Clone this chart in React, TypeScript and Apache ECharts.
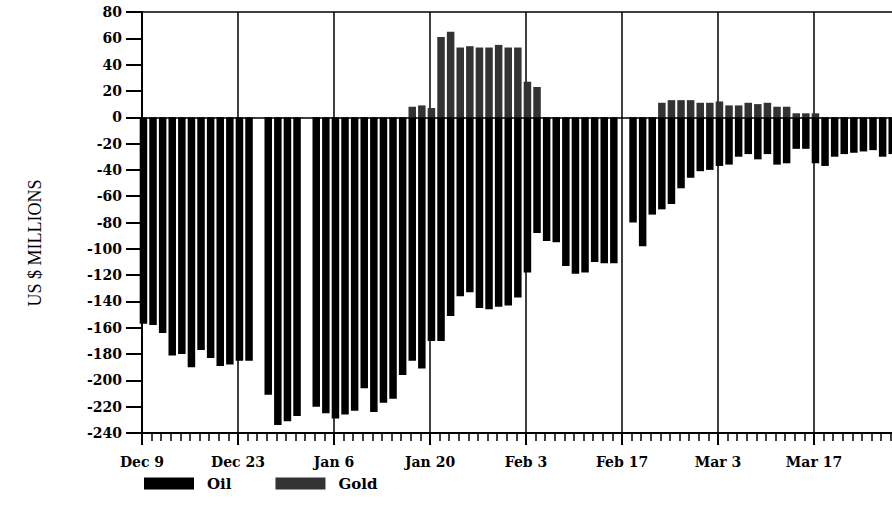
import React, { useEffect, useRef } from "react";
import * as echarts from "echarts";

// Business-day index 0 = Dec 9; a label every 10 business days (two weeks)
const dateLabels = ["Dec 9", "Dec 23", "Jan 6", "Jan 20", "Feb 3", "Feb 17", "Mar 3", "Mar 17", "Mar 31"];

// US $ millions, one value per business day (null = holiday, no bar)
const oil: (number | null)[] = [
  -157, -158, -164, -181, -180, -190, -177, -183, -189, -188,
  -185, -185, null, -211, -234, -231, -227, null, -220, -225,
  -229, -226, -223, -206, -224, -217, -214, -196, -185, -191,
  -170, -170, -151, -136, -133, -145, -146, -144, -143, -137,
  -118, -88, -94, -95, -113, -119, -118, -110, -111, -111,
  null, -80, -98, -74, -70, -66, -54, -46, -41, -40,
  -37, -36, -30, -28, -32, -28, -36, -35, -24, -24,
  -35, -37, -30, -28, -27, -26, -25, -30, -28,
];

const gold: (number | null)[] = [
  null, null, null, null, null, null, null, null, null, null,
  null, null, null, null, null, null, null, null, null, null,
  null, null, null, null, null, null, null, null, 8, 9,
  7, 61, 65, 53, 54, 53, 53, 55, 53, 53,
  27, 23, null, null, null, null, null, null, null, null,
  null, null, null, null, 11, 13, 13, 13, 11, 11,
  12, 9, 9, 11, 10, 11, 8, 8, 3, 3,
  3, null, null, null, null, null, null, null, null,
];

const BAR_SHIFT = 0.15;

export default function App() {
  const ref = useRef<HTMLDivElement>(null);
  useEffect(() => {
    if (!ref.current) return;
    const chart = echarts.init(ref.current, null, { renderer: "svg" });
    const toData = (arr: (number | null)[]) =>
      arr.map((v, i) => [i + BAR_SHIFT, v]);
    const labelFont = {
      fontFamily: "DejaVu Serif",
      fontWeight: "bold" as const,
      fontSize: 14,
      color: "#000",
    };
    chart.setOption({
      animation: false,
      backgroundColor: "#fff",
      grid: {
        left: 142,
        right: -18,
        top: 12,
        bottom: 87,
        containLabel: false,
        outerBoundsMode: "none",
        show: true,
        borderColor: "#000",
        borderWidth: 1.5,
        backgroundColor: "transparent",
      },
      legend: {
        left: 139,
        top: 471,
        itemWidth: 50,
        itemHeight: 12,
        itemGap: 44,
        icon: "rect",
        textStyle: {
          fontFamily: "DejaVu Serif",
          fontWeight: "bold",
          fontSize: 15,
          color: "#000",
          padding: [0, 0, 0, 8],
        },
        data: ["Oil", "Gold"],
      },
      graphic: [
        {
          type: "text",
          x: 35,
          y: 243,
          rotation: Math.PI / 2,
          style: {
            text: "US $ MILLIONS",
            fontFamily: "Liberation Serif",
            fontSize: 18,
            fill: "#000",
            align: "center",
            verticalAlign: "middle",
          },
        },
      ],
      xAxis: {
        type: "value",
        min: 0,
        max: 80,
        interval: 10,
        axisLine: { onZero: false, lineStyle: { color: "#000", width: 2 } },
        axisTick: { show: true, length: 12, lineStyle: { color: "#000", width: 2 } },
        minorTick: { show: true, splitNumber: 10, length: 8, lineStyle: { color: "#000", width: 1.5 } },
        splitLine: { show: true, lineStyle: { color: "#000", width: 1.5 } },
        axisLabel: {
          ...labelFont,
          margin: 22,
          formatter: (v: number) => (v % 10 === 0 && v < 80 ? dateLabels[v / 10] ?? "" : ""),
        },
      },
      yAxis: {
        type: "value",
        min: -240,
        max: 80,
        interval: 20,
        axisLine: { show: true, lineStyle: { color: "#000", width: 2 } },
        axisTick: { show: true, length: 16, lineStyle: { color: "#000", width: 2 } },
        splitLine: { show: false },
        axisLabel: { ...labelFont, margin: 20 },
      },
      series: [
        {
          name: "Oil",
          type: "bar",
          stack: "flows",
          barWidth: 7.5,
          clip: false,
          itemStyle: { color: "#000" },
          data: toData(oil),
          markLine: {
            silent: true,
            symbol: "none",
            label: { show: false },
            lineStyle: { color: "#000", width: 1.5, type: "solid" },
            data: [{ yAxis: 0 }],
          },
        },
        {
          name: "Gold",
          type: "bar",
          stack: "flows",
          barWidth: 7.5,
          clip: false,
          itemStyle: { color: "#333333" },
          data: toData(gold),
        },
      ],
    });
    return () => chart.dispose();
  }, []);
  return <div ref={ref} style={{ width: 892, height: 520, position: "fixed", left: 0, top: 0 }} />;
}
